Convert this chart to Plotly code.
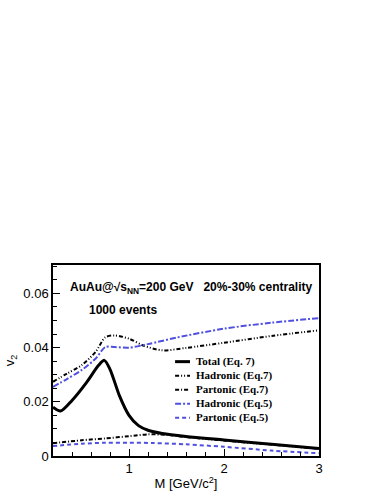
import plotly.graph_objects as go

# invariant mass M [GeV/c^2]
m_total = [0.2, 0.28, 0.4, 0.55, 0.68, 0.74, 0.8, 0.9, 1.0, 1.1, 1.2, 1.35, 1.6, 2.0, 2.5, 3.0]
v2_total = [0.018, 0.0166, 0.0205, 0.027, 0.0335, 0.0353, 0.032, 0.0222, 0.015, 0.0112, 0.0095, 0.0083, 0.0072, 0.0059, 0.0043, 0.0028]

m_had7 = [0.2, 0.35, 0.5, 0.65, 0.75, 0.85, 1.0, 1.15, 1.35, 1.6, 2.0, 2.5, 3.0]
v2_had7 = [0.0274, 0.0305, 0.0335, 0.0385, 0.0438, 0.0445, 0.0433, 0.0408, 0.039, 0.0399, 0.0418, 0.0443, 0.0464]

m_par7 = [0.2, 0.5, 0.75, 1.0, 1.2, 1.4, 1.6, 2.0, 2.5, 3.0]
v2_par7 = [0.0047, 0.0058, 0.0065, 0.0073, 0.008, 0.0078, 0.007, 0.0057, 0.0042, 0.0027]

m_had5 = [0.2, 0.35, 0.5, 0.65, 0.75, 0.85, 1.0, 1.2, 1.5, 2.0, 2.5, 3.0]
v2_had5 = [0.0255, 0.0285, 0.0317, 0.036, 0.0402, 0.0402, 0.04, 0.0413, 0.0437, 0.047, 0.0492, 0.0509]

m_par5 = [0.2, 0.5, 0.75, 1.0, 1.25, 1.6, 2.0, 2.5, 3.0]
v2_par5 = [0.0037, 0.0045, 0.0049, 0.0049, 0.0048, 0.0043, 0.0034, 0.002, 0.001]

series = [
    ("Total (Eq. 7)", m_total, v2_total, "black", 3, "solid"),
    ("Hadronic (Eq.7)", m_had7, v2_had7, "black", 2, "4px,2px,1px,2px,1px,2px"),
    ("Partonic (Eq.7)", m_par7, v2_par7, "black", 2, "4px,2px,1px,2px"),
    ("Hadronic (Eq.5)", m_had5, v2_had5, "#5050e0", 2, "6px,2px,2px,2px"),
    ("Partonic (Eq.5)", m_par5, v2_par5, "#5050e0", 2, "4px,3px"),
]

fig = go.Figure()
for name, x, y, color, width, dash in series:
    fig.add_trace(go.Scatter(
        x=x, y=y, name=name, mode='lines', showlegend=False,
        line=dict(color=color, width=width, dash=dash, shape='spline', smoothing=0.8)
    ))

# hand-made legend box (ROOT TLegend style, no border)
leg_x0, leg_x1, leg_tx = 0.459, 0.515, 0.530
leg_y0, leg_dy = 0.494, 0.0733
for i, (name, x, y, color, width, dash) in enumerate(series):
    ly = leg_y0 - i * leg_dy
    fig.add_shape(type='line', xref='paper', yref='paper',
                  x0=leg_x0, x1=leg_x1, y0=ly, y1=ly,
                  line=dict(color=color, width=width, dash=dash))
    fig.add_annotation(x=leg_tx, y=ly, xref='paper', yref='paper',
                       xanchor='left', yanchor='middle', showarrow=False,
                       text="<b>" + name + "</b>",
                       font=dict(family="Liberation Serif, Times New Roman", size=11, color="black"))

axis_font = dict(family="Liberation Sans, Arial", size=13, color="black")

fig.update_layout(
    width=383, height=495,
    margin=dict(l=53, r=64, t=265, b=39),
    plot_bgcolor='white', paper_bgcolor='white',
    showlegend=False,
    xaxis=dict(
        range=[0.2, 3.0], showline=True, linecolor='black', linewidth=1.5, mirror=True,
        showgrid=False, zeroline=False, ticks='inside', ticklen=7, tickcolor='black',
        tickvals=[1, 2, 3], tickfont=axis_font, automargin=False,
        minor=dict(dtick=0.2, tick0=0, ticks='inside', ticklen=4, tickcolor='black'),
        title=dict(text="M [GeV/c<sup>2</sup>]", font=axis_font, standoff=4),
    ),
    yaxis=dict(
        range=[0, 0.0705], showline=True, linecolor='black', linewidth=1.5, mirror=True,
        showgrid=False, zeroline=False, ticks='inside', ticklen=7, tickcolor='black',
        tickvals=[0, 0.02, 0.04, 0.06], ticktext=["0", "0.02", "0.04", "0.06"], tickfont=axis_font,
        automargin=False,
        minor=dict(dtick=0.005, tick0=0, ticks='inside', ticklen=4, tickcolor='black'),
        title=dict(text="v<sub>2</sub>", font=axis_font, standoff=6),
    ),
)

label_font = dict(family="Liberation Sans, Arial", size=12, color="black")
fig.add_annotation(
    x=0.056, y=0.88, xref='paper', yref='paper', xanchor='left', yanchor='middle', showarrow=False,
    text="<b>AuAu@√s<sub>NN</sub>=200 GeV   20%-30% centrality</b>",
    font=label_font,
)
fig.add_annotation(
    x=0.128, y=0.764, xref='paper', yref='paper', xanchor='left', yanchor='middle', showarrow=False,
    text="<b>1000 events</b>",
    font=label_font,
)

# drop the browser's default body margin so the figure sits at the page corner
fig.write_html("out.html", config={'displayModeBar': False},
               post_script="document.body.style.margin='0';")
